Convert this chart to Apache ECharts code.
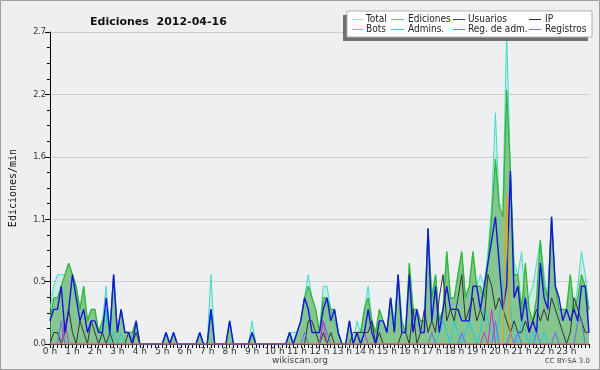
<!DOCTYPE html>
<html><head><meta charset="utf-8">
<script src="https://cdn.jsdelivr.net/npm/echarts@6/dist/echarts.min.js"></script>
<style>html,body{margin:0;padding:0;background:#eeeff0}#c{width:600px;height:370px}</style>
</head><body><div id="c"></div>
<script>
// 10-minute slots, position k = 0..144 (k*10 min)
const totalVals = [
0.3,0.5,0.6,0.6,0.6,0.7, 0.6,0.5,0.3,0.5,0.2,0.3, 0.3,0.1,0.2,0.5,0.1,0.6, 0.1,0.3,0.1,0.1,0.1,0.2,
0,0,0,0,0,0, 0,0.1,0,0.1,0,0, 0,0,0,0,0.1,0, 0,0.6,0,0,0,0,
0.2,0,0,0,0,0, 0.2,0,0,0,0,0, 0,0,0,0,0.1,0.1, 0.1,0.2,0.4,0.6,0.4,0.3,
0.1,0.5,0.5,0.3,0.2,0.1, 0,0,0.2,0,0.2,0.1, 0.3,0.5,0.2,0.1,0.3,0.2, 0.1,0.4,0.2,0.6,0.2,0.1,
0.7,0.3,0.3,0.2,0.2,1.0, 0.4,0.6,0.2,0.3,0.8,0.4, 0.4,0.6,0.8,0.4,0.5,0.8, 0.5,0.6,0.5,0.8,1.2,2.0,
1.2,1.2,2.7,1.5,0.7,0.6, 0.8,0.3,0.4,0.5,0.7,0.9, 0.6,0.4,1.1,0.5,0.3,0.3, 0.3,0.6,0.3,0.5,0.8,0.6, 0.3];
const edicionesVals = [
0.2,0.4,0.4,0.5,0.6,0.7, 0.6,0.5,0.3,0.5,0.2,0.3, 0.3,0.1,0.2,0.3,0.1,0.6, 0.1,0.3,0.1,0.1,0.1,0.2,
0,0,0,0,0,0, 0,0.1,0,0.1,0,0, 0,0,0,0,0.1,0, 0,0.3,0,0,0,0,
0.2,0,0,0,0,0, 0.1,0,0,0,0,0, 0,0,0,0,0.1,0, 0.1,0.2,0.4,0.5,0.4,0.3,
0.1,0.4,0.4,0.3,0.3,0.1, 0,0,0.2,0,0.1,0.1, 0.3,0.4,0.2,0.1,0.3,0.2, 0.1,0.4,0.1,0.6,0.2,0.1,
0.7,0.3,0.3,0.2,0.2,1.0, 0.4,0.6,0.2,0.3,0.8,0.4, 0.4,0.6,0.8,0.4,0.5,0.8, 0.5,0.5,0.4,0.7,1.1,1.6,
1.2,1.1,2.2,1.5,0.6,0.6, 0.3,0.7,0.3,0.2,0.4,0.9, 0.5,0.4,1.1,0.5,0.3,0.3, 0.3,0.6,0.3,0.4,0.6,0.5, 0.3];
const usuariosVals = [
0.2,0.3,0.3,0.5,0.1,0.3, 0.6,0.4,0.2,0.3,0.1,0.2, 0.2,0.1,0.1,0.4,0.1,0.6, 0.1,0.3,0.1,0.1,0,0.2,
0,0,0,0,0,0, 0,0.1,0,0.1,0,0, 0,0,0,0,0.1,0, 0,0.3,0,0,0,0,
0.2,0,0,0,0,0, 0.1,0,0,0,0,0, 0,0,0,0,0.1,0, 0.1,0.2,0.4,0.3,0.1,0.1,
0.1,0.3,0.4,0.2,0.3,0.1, 0,0,0.2,0,0.1,0, 0.1,0.3,0.1,0,0.2,0.2, 0.1,0.4,0.1,0.6,0.1,0.1,
0.6,0.1,0.3,0.1,0.1,1.0, 0.2,0.5,0.1,0.3,0.5,0.3, 0.3,0.3,0.2,0.2,0.2,0.5, 0.5,0.3,0.5,0.7,0.9,1.1,
0.7,0.3,0.5,1.5,0.4,0.5, 0.2,0.4,0.1,0.2,0.1,0.7, 0.4,0.3,1.1,0.5,0.4,0.2, 0.3,0.2,0.3,0.2,0.5,0.5, 0.1];
const ipVals = [
0,0.1,0.1,0,0.1,0.3, 0.1,0,0.2,0.1,0,0.2, 0.1,0,0.1,0,0.1,0, 0,0,0,0.1,0,0.1,
0,0,0,0,0,0, 0,0,0,0,0,0, 0,0,0,0,0,0, 0,0,0,0,0,0,
0,0,0,0,0,0, 0,0,0,0,0,0, 0,0,0,0,0,0, 0,0,0,0.2,0.2,0.1,
0,0.1,0,0.1,0,0, 0,0,0,0.1,0.1,0.1, 0.1,0.1,0.2,0,0.1,0, 0,0,0,0,0.1,0.1,
0,0.3,0,0.1,0.3,0.1, 0.2,0.1,0.4,0.6,0.2,0.3, 0.2,0.4,0.6,0.2,0.3,0.4, 0.2,0.3,0.2,0.6,0.5,0.3,
0.4,0.3,0.2,0.1,0.2,0.1, 0.1,0.2,0.1,0.2,0.3,0.2, 0.3,0.2,0.4,0.3,0.2,0.1, 0,0.1,0.4,0.3,0.2,0.1, 0.1];
const botsVals = new Array(145).fill(0);
botsVals[122] = 1.3;
const adminsVals = [
0,0,0,0,0,0, 0,0,0,0,0,0, 0,0,0.1,0.3,0,0.1, 0,0.1,0,0,0,0,
0,0,0,0,0,0, 0,0,0,0,0,0, 0,0,0,0,0,0, 0,0,0,0,0,0,
0,0,0,0,0,0, 0,0,0,0,0,0, 0,0,0,0,0,0, 0,0,0,0,0,0,
0,0,0,0,0,0, 0,0,0,0,0,0, 0,0,0,0,0,0, 0,0,0,0,0,0,
0,0,0,0,0,0, 0,0,0.1,0.2,0.1,0, 0.2,0.1,0,0.1,0.2,0.1, 0,0.1,0.3,0.2,0.1,0,
0.2,0.5,0.7,0.3,0.1,0, 0.2,0.1,0,0.1,0,0, 0.1,0,0,0,0,0, 0,0,0,0,0,0, 0];
const regAdmVals = new Array(145).fill(0);
regAdmVals[4] = 0.2; regAdmVals[73] = 0.2; regAdmVals[84] = 0.1; regAdmVals[116] = 0.1; regAdmVals[118] = 0.3;
const registrosVals = new Array(145).fill(0);
registrosVals[3] = 0.2; registrosVals[43] = 0.3; registrosVals[68] = 0.1; registrosVals[73] = 0.2; registrosVals[74] = 0.1;
registrosVals[102] = 0.1; registrosVals[110] = 0.1; registrosVals[119] = 0.2; registrosVals[123] = 0.1; registrosVals[125] = 0.1;
registrosVals[130] = 0.1; registrosVals[135] = 0.1; registrosVals[141] = 0.2; registrosVals[142] = 0.2;

const legendNames = ['Total','Ediciones','Usuarios','IP','Bots','Admins.','Reg. de adm.','Registros'];
const legendColors = ['#a0e6e0','#70cc70','#3030ee','#303030','#ffa020','#30ccdd','#dd44dd','#7777ee'];

const pts = a => a.map((v, k) => [k, v]);
const chart = echarts.init(document.getElementById('c'));
const mk = (name, vals, color, width, area, z) => ({
  name, type: 'line', data: pts(vals), symbol: 'none', z: z,
  lineStyle: { color, width }, itemStyle: { color },
  areaStyle: area ? { color: area, opacity: 1 } : undefined, animation: false
});

const legendEls = [];
legendEls.push({ type: 'rect', shape: { x: 343, y: 15, width: 245, height: 26 }, style: { fill: '#707070' }, z: 10 });
legendEls.push({ type: 'rect', shape: { x: 347, y: 11, width: 245, height: 26 }, style: { fill: '#ffffff', stroke: '#b0b0b0', lineWidth: 1 }, z: 11 });
const colLine = [[352, 363], [391, 404], [453, 465], [529, 541]];
const colText = [366, 408, 468, 545];
legendNames.forEach((n, i) => {
  const r = Math.floor(i / 4), c = i % 4;
  const y = r === 0 ? 19 : 29;
  legendEls.push({ type: 'rect', shape: { x: colLine[c][0], y: y, width: colLine[c][1] - colLine[c][0], height: 1 }, style: { fill: legendColors[i] }, z: 12 });
  legendEls.push({ type: 'text', x: colText[c], y: y, style: { text: n, font: '10px "DejaVu Sans Condensed","DejaVu Sans"', fill: '#222', verticalAlign: 'middle' }, z: 12 });
});

chart.setOption({
  backgroundColor: '#eeeff0',
  animation: false,
  title: { text: 'Ediciones  2012-04-16', left: 85, top: 12, textStyle: { fontFamily: 'DejaVu Sans', fontWeight: 'bold', fontSize: 11, color: '#111' } },
  grid: { left: 47, right: 11, top: 32, bottom: 26 },
  xAxis: {
    type: 'value', min: 0, max: 144, interval: 6,
    axisLine: { show: true, onZero: false, lineStyle: { color: '#000', width: 1 } },
    axisTick: { show: true, length: 4, lineStyle: { color: '#000' } },
    minorTick: { show: true, splitNumber: 6, length: 4, lineStyle: { color: '#000' } },
    splitLine: { show: false },
    axisLabel: { formatter: v => v < 144 ? (v / 6) + ' h' : '', fontSize: 9, color: '#333', fontFamily: 'DejaVu Sans', margin: 3 }
  },
  yAxis: {
    type: 'value', min: 0, max: 2.7, interval: 0.54,
    name: 'Ediciones/min', nameLocation: 'middle', nameGap: 32, nameRotate: 90,
    nameTextStyle: { fontFamily: 'DejaVu Sans Mono', fontSize: 10, color: '#111' },
    axisLine: { show: true, lineStyle: { color: '#000', width: 1 } },
    axisTick: { show: true, length: 5, lineStyle: { color: '#000' } },
    minorTick: { show: true, splitNumber: 4, length: 3, lineStyle: { color: '#000' } },
    splitLine: { show: true, lineStyle: { color: '#cccccc', width: 1 } },
    axisLabel: { formatter: v => v.toFixed(1), fontSize: 9, color: '#333', fontFamily: 'DejaVu Sans Condensed', margin: 4 }
  },
  series: [
    mk('Total', totalVals, '#40dccc', 1, 'rgba(150,225,210,0.35)', 2),
    mk('Ediciones', edicionesVals, '#33b833', 1.3, 'rgba(60,160,60,0.5)', 3),
    mk('Admins.', adminsVals, '#22ccdd', 1, null, 4),
    mk('IP', ipVals, '#333333', 1, null, 5),
    mk('Registros', registrosVals, '#6a6aee', 1, null, 6),
    mk('Reg. de adm.', regAdmVals, '#cc33cc', 1, null, 7),
    mk('Usuarios', usuariosVals, '#1515dd', 1.4, null, 8),
    mk('Bots', botsVals, '#ff9900', 1, null, 9)
  ],
  graphic: legendEls.concat([
    { type: 'rect', shape: { x: 0.5, y: 0.5, width: 599, height: 369 }, style: { fill: 'none', stroke: '#a0a0a0', lineWidth: 1 }, z: 20 },
    { type: 'text', x: 300, y: 361, style: { text: 'wikiscan.org', font: '9px "DejaVu Sans"', fill: '#444', align: 'center', verticalAlign: 'middle' } },
    { type: 'text', x: 590, y: 361, style: { text: 'CC BY-SA 3.0', font: '7px "DejaVu Sans"', fill: '#444', align: 'right', verticalAlign: 'middle' } }
  ])
});
</script></body></html>
